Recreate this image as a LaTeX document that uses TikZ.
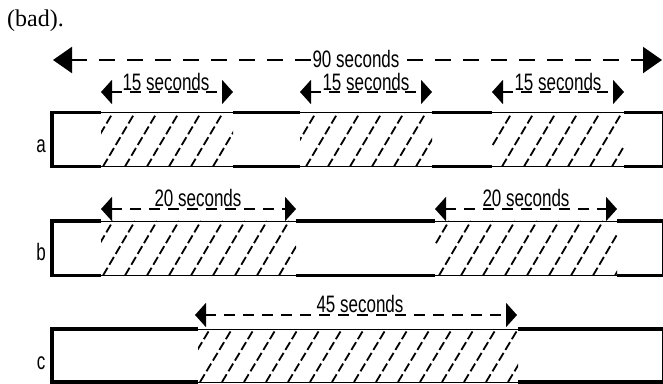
\documentclass[tikz,border=0pt]{standalone}
\usepackage{fontspec}
\setmainfont{Liberation Sans}
\newfontfamily\serifbad{Liberation Serif}
\usetikzlibrary{arrows.meta}
\newcommand{\stretchtxt}[1]{\scalebox{1}[1.4]{#1}}
\begin{document}
\begin{tikzpicture}[x=1pt,y=-1pt,
  lbl/.style={font=\fontsize{17}{19}\selectfont, inner sep=0pt},
  barlbl/.style={font=\fontsize{17}{19}\selectfont, inner sep=0pt, anchor=base},
  bigarr/.style={line width=2.2pt, dash pattern=on 16pt off 12pt,
    {Triangle[length=19pt,width=26pt]}-{Triangle[length=19pt,width=26pt]}},
  smallarr/.style={line width=2.2pt, dash pattern=on 11pt off 8pt,
    {Triangle[length=11pt,width=24pt]}-{Triangle[length=11pt,width=24pt]}},
  thickborder/.style={line width=3.4pt, line join=miter},
  thinborder/.style={line width=1pt},
  hatchline/.style={line width=1.8pt, dash pattern=on 9pt off 3.5pt}
]
\useasboundingbox (0,0) rectangle (663,383);

% title
\node[font=\serifbad\fontsize{24}{26}\selectfont, inner sep=0pt, anchor=base west] (bad) at (7,26) {(bad).};

% ---------- 90 seconds
\coordinate (nL) at (53,60);
\coordinate (nR) at (662,60);
\draw[bigarr] (nL) -- (nR);
\node[lbl, fill=white, inner xsep=1pt, inner ysep=0pt] (ninety) at (356,59) {\stretchtxt{90 seconds}};

% ---------- bar a
\def\at{112.5}\def\ab{166.5}
\foreach \xa/\xb/\ph in {101/233/0, 300/432/4, 492/624/8}{
  \begin{scope}
    \clip (\xa,\at-1) rectangle (\xb,\ab+1);
    \foreach \k in {0,...,8}{
      \draw[hatchline] ({\xa+\ph-20+22*\k},\ab) -- ({\xa+\ph+12+22*\k},\at);
    }
  \end{scope}
}
\draw[thinborder] (52,\at) -- (662,\at);
\draw[thinborder] (52,\ab) -- (662,\ab);
\draw[thickborder] (101,\at) -- (52,\at) -- (52,\ab) -- (101,\ab);
\draw[thickborder] (233,\at) -- (300,\at) (233,\ab) -- (300,\ab);
\draw[thickborder] (432,\at) -- (492,\at) (432,\ab) -- (492,\ab);
\draw[thickborder] (624,\at) -- (664,\at) (624,\ab) -- (664,\ab);
\draw[line width=1.2pt] (662.4,\at) -- (662.4,\ab);
\node[barlbl] (la) at (41,152) {\stretchtxt{a}};

\coordinate (a1L) at (101,92); \coordinate (a1R) at (233,92);
\coordinate (a2L) at (300,92); \coordinate (a2R) at (432,92);
\coordinate (a3L) at (492,92); \coordinate (a3R) at (624,92);
\draw[smallarr] (a1L) -- (a1R);
\draw[smallarr] (a2L) -- (a2R);
\draw[smallarr] (a3L) -- (a3R);
\node[lbl, anchor=base] (ta1) at (166,90) {\stretchtxt{15 seconds}};
\node[lbl, anchor=base] (ta2) at (366,90) {\stretchtxt{15 seconds}};
\node[lbl, anchor=base] (ta3) at (558,90) {\stretchtxt{15 seconds}};

% ---------- bar b
\def\bt{221}\def\bb{275.5}
\foreach \xa/\xb/\ph in {101/296/0, 435/617/2}{
  \begin{scope}
    \clip (\xa,\bt-1) rectangle (\xb,\bb+1);
    \foreach \k in {0,...,11}{
      \draw[hatchline] ({\xa+\ph-20+22*\k},\bb) -- ({\xa+\ph+12+22*\k},\bt);
    }
  \end{scope}
}
\draw[thinborder] (52,\bt) -- (662,\bt);
\draw[thinborder] (52,\bb) -- (662,\bb);
\draw[thickborder] (101,\bt) -- (52,\bt) -- (52,\bb) -- (101,\bb);
\draw[thickborder] (296,\bt) -- (435,\bt) (296,\bb) -- (435,\bb);
\draw[thickborder] (617,\bt) -- (664,\bt) (617,\bb) -- (664,\bb);
\draw[line width=1.2pt] (662.4,\bt) -- (662.4,\bb);
\node[barlbl] (lb) at (41,260) {\stretchtxt{b}};

\coordinate (b1L) at (101,209); \coordinate (b1R) at (296,209);
\coordinate (b2L) at (435,209); \coordinate (b2R) at (617,209);
\draw[smallarr] (b1L) -- (b1R);
\draw[smallarr] (b2L) -- (b2R);
\node[lbl, anchor=base] (tb1) at (198,206) {\stretchtxt{20 seconds}};
\node[lbl, anchor=base] (tb2) at (526,206) {\stretchtxt{20 seconds}};

% ---------- bar c
\def\ct{329}\def\cb{382}
\begin{scope}
  \clip (198,\ct-1) rectangle (518,\cb+1);
  \foreach \k in {0,...,16}{
    \draw[hatchline] ({198-20+22*\k},\cb) -- ({198+12+22*\k},\ct);
  }
\end{scope}
\draw[thinborder] (52,\ct) -- (662,\ct);
\draw[thinborder] (52,\cb) -- (662,\cb);
\draw[thickborder] (198,\ct) -- (52,\ct) -- (52,\cb) -- (198,\cb);
\draw[thickborder] (518,\ct) -- (664,\ct) (518,\cb) -- (664,\cb);
\draw[line width=1.2pt] (662.4,\ct) -- (662.4,\cb);
\node[barlbl] (lc) at (41,369) {\stretchtxt{c}};

\coordinate (cL) at (195,315); \coordinate (cR) at (517,315);
\draw[smallarr] (cL) -- (cR);
\node[lbl, anchor=base] (tc) at (360,312) {\stretchtxt{45 seconds}};
\end{tikzpicture}
\end{document}
